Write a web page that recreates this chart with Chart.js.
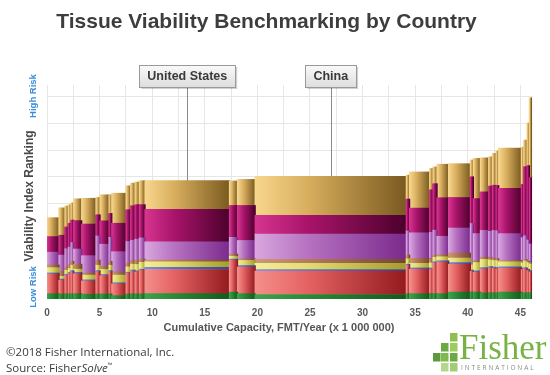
<!DOCTYPE html>
<html>
<head>
<meta charset="utf-8">
<title>Tissue Viability Benchmarking by Country</title>
<script src="https://cdn.jsdelivr.net/npm/chart.js"></script>
<style>
  html, body { margin: 0; padding: 0; background: #fff; }
  #grafico { display: block; }
</style>
</head>
<body>
<canvas id="grafico" width="550" height="375"></canvas>
<script>
// Capacidad de cada país (ancho de cada barra), millones de FMT/año, de izquierda a derecha
const capacity = [1.14, 0.57, 0.32, 0.25, 0.26, 0.76, 1.36, 0.38, 0.86, 0.26, 1.36, 0.44, 0.41, 0.41, 0.54,
  8.03, 0.76, 1.68, 14.37, 0.31, 1.91, 0.32, 0.38, 1.10, 2.07, 0.28, 0.67, 0.79, 0.35, 0.35, 0.25,
  2.16, 0.22, 0.32, 0.22, 0.19];

// Componentes del índice, apilados de abajo hacia arriba
const green   = [2.0, 1.9, 1.9, 1.9, 1.9, 2.0, 1.8, 1.9, 1.9, 1.9, 1.3, 1.9, 1.9, 1.9, 1.9, 2.0, 2.6, 2.0, 1.7, 2.0, 2.0, 2.0, 2.0, 2.0, 2.6, 2.6, 2.6, 2.3, 2.3, 2.3, 2.3, 2.6, 2.3, 2.3, 2.3, 2.3];
const red     = [7.4, 5.2, 7.0, 7.6, 8.3, 7.5, 5.0, 8.4, 6.9, 8.4, 4.4, 7.8, 8.6, 8.3, 8.9, 9.1, 12.0, 10.0, 8.8, 10.6, 9.2, 9.1, 11.5, 11.9, 10.5, 7.8, 7.5, 9.0, 9.4, 9.2, 9.0, 9.0, 8.8, 9.0, 8.4, 7.9];
const blue    = [0.4, 0.4, 0.4, 0.5, 0.5, 0.5, 0.4, 0.4, 0.4, 0.4, 0.4, 0.4, 0.4, 0.4, 0.4, 0.8, 0.4, 0.6, 0.6, 0.5, 0.5, 0.5, 0.5, 0.5, 0.6, 0.5, 0.5, 0.5, 0.5, 0.5, 0.5, 0.5, 0.5, 0.5, 0.5, 0.5];
const yellow  = [2.0, 1.0, 1.5, 1.5, 2.0, 1.2, 1.8, 2.0, 1.9, 2.0, 2.9, 2.0, 2.2, 2.4, 2.6, 2.1, 1.1, 1.9, 2.3, 2.0, 1.7, 2.0, 1.7, 1.5, 1.7, 1.9, 3.1, 3.1, 2.5, 2.5, 2.6, 1.9, 2.0, 2.5, 2.5, 2.5];
const brown   = [1.0, 2.0, 1.2, 1.5, 1.5, 1.9, 0.8, 2.0, 1.3, 1.5, 1.3, 1.5, 1.5, 1.5, 1.2, 0.6, 0.8, 0.6, 1.5, 1.5, 1.9, 1.5, 0.8, 0.8, 1.9, 0.5, 0.8, 0.8, 0.8, 0.8, 0.8, 0.5, 0.5, 0.5, 0.5, 0.5];
const purple  = [4.8, 6.0, 6.9, 6.5, 7.0, 5.7, 6.5, 9.0, 8.2, 9.0, 7.5, 8.0, 7.5, 8.0, 8.0, 6.9, 6.3, 6.9, 9.5, 9.0, 9.6, 10.0, 9.4, 6.9, 9.4, 15.1, 10.1, 10.1, 10.0, 10.5, 10.5, 10.1, 9.0, 9.0, 8.0, 7.0];
const magenta = [5.9, 7.5, 8.2, 9.0, 8.5, 10.7, 11.9, 8.0, 8.8, 9.0, 10.7, 12.0, 13.0, 13.0, 12.5, 12.2, 12.0, 13.2, 7.1, 12.0, 9.3, 16.0, 17.5, 14.5, 11.5, 17.6, 13.2, 14.5, 17.0, 17.0, 17.0, 17.0, 20.0, 26.0, 28.0, 25.0];
const gold    = [7.1, 10.3, 7.9, 7.0, 6.5, 8.2, 9.7, 6.5, 9.8, 7.0, 11.3, 9.0, 8.5, 8.5, 9.0, 10.8, 9.2, 9.8, 14.6, 9.0, 13.6, 8.0, 6.3, 12.6, 12.7, 6.3, 15.1, 12.8, 11.0, 12.0, 13.0, 15.2, 14.0, 10.0, 16.0, 30.0];

const layerNames = ['Green', 'Red', 'Blue', 'Yellow', 'Brown', 'Purple', 'Magenta', 'Gold'];
const xTicks = [0, 2.5, 5, 7.5, 10, 12.5, 15, 17.5, 20, 22.5, 25, 27.5, 30, 32.5, 35, 37.5, 40, 42.5, 45];
const yGrid = [6, 16, 26, 36, 46, 56, 66, 76];
const calloutText = ['United States', 'China'];
const calloutBar = [15, 18];

// Colores: claro (izquierda) -> oscuro (derecha), para el efecto de cilindro
const lightCol = ['#3fa24c', '#f48f8a', '#7b8fe0', '#f3ef98', '#cf9a78', '#d9a6df', '#d6348f', '#f7d68d'];
const midCol   = ['#2a8a36', '#e46262', '#5a70c8', '#e2dc70', '#b47a5a', '#b672c0', '#a8146a', '#d8ae5e'];
const darkCol  = ['#155a1d', '#931a1e', '#34449a', '#a59c2c', '#74452c', '#7a2a8c', '#4c002c', '#7a5a20'];

// Posición acumulada de cada barra en el eje x
const start = [], end = [];
let acc = 0;
capacity.forEach(c => { start.push(acc); acc += c; end.push(acc); });

function shade(c, k) {
  const xs = c.chart.scales.x;
  if (c.type !== 'data' || !xs) return midCol[k];
  const x0 = xs.getPixelForValue(start[c.dataIndex]);
  const x1 = xs.getPixelForValue(end[c.dataIndex]);
  if (!isFinite(x0) || !isFinite(x1) || x1 - x0 < 1) return midCol[k];
  const g = c.chart.ctx.createLinearGradient(x0, 0, x1, 0);
  g.addColorStop(0, lightCol[k]);
  g.addColorStop(0.35, midCol[k]);
  g.addColorStop(1, darkCol[k]);
  return g;
}

const layers = [green, red, blue, yellow, brown, purple, magenta, gold];
const totals = capacity.map(() => 0);
const datasets = layers.map((vals, k) => {
  const data = vals.map((v, i) => {
    const lo = totals[i];
    totals[i] += v;
    return { x: (start[i] + end[i]) / 2, y: [lo, totals[i]] };
  });
  return {
    label: layerNames[k], data,
    backgroundColor: c => shade(c, k),
    borderWidth: 0, grouped: false, barPercentage: 1, categoryPercentage: 1
  };
});

// Ancho de cada barra = capacidad del país, medido con la escala x
const anchos = {
  id: 'anchos',
  afterDatasetsUpdate(chart) {
    const xs = chart.scales.x;
    chart.data.datasets.forEach((ds, d) => {
      chart.getDatasetMeta(d).data.forEach((bar, i) => {
        const x0 = xs.getPixelForValue(start[i]), x1 = xs.getPixelForValue(end[i]);
        bar.x = (x0 + x1) / 2;
        bar.width = x1 - x0 + 0.6;
      });
    });
  }
};

function vertical(ctx, text, x, y, font, color) {
  ctx.save();
  ctx.translate(x, y);
  ctx.rotate(-Math.PI / 2);
  ctx.font = font; ctx.fillStyle = color;
  ctx.textAlign = 'center'; ctx.textBaseline = 'middle';
  ctx.fillText(text, 0, 0);
  ctx.restore();
}

// Textos, llamadas y logo
const adornos = {
  id: 'adornos',
  afterDraw(chart) {
    const { ctx, chartArea: a, scales: { x, y } } = chart;
    ctx.save();

    vertical(ctx, 'High Risk', 33, a.top + 11, 'bold 9.5px "Liberation Sans"', '#3a8fdc');
    vertical(ctx, 'Low Risk', 33, a.bottom - 12, 'bold 9.5px "Liberation Sans"', '#3a8fdc');
    vertical(ctx, 'Viability Index Ranking', 30, (a.top + a.bottom) / 2 + 4, 'bold 12px "Liberation Sans"', '#4a4a4a');

    ctx.font = 'bold 11px "Liberation Sans"'; ctx.fillStyle = '#555';
    ctx.textAlign = 'center'; ctx.textBaseline = 'middle';
    ctx.fillText('Cumulative Capacity, FMT/Year (x 1 000 000)', 279, 328);

    // Llamadas de país
    calloutText.forEach((txt, n) => {
      const i = calloutBar[n];
      const cx = x.getPixelForValue((start[i] + end[i]) / 2);
      const top = y.getPixelForValue(totals[i]);
      ctx.font = 'bold 12.5px "Liberation Sans"';
      const w = ctx.measureText(txt).width + 16, h = 22, by = a.top - 20;
      ctx.strokeStyle = '#8a8a8a'; ctx.lineWidth = 1;
      ctx.beginPath(); ctx.moveTo(Math.round(cx) + 0.5, by + h); ctx.lineTo(Math.round(cx) + 0.5, top); ctx.stroke();
      ctx.fillStyle = 'rgba(0,0,0,0.18)';
      ctx.fillRect(cx - w / 2 + 2, by + 2, w, h);
      const g = ctx.createLinearGradient(0, by, 0, by + h);
      g.addColorStop(0, '#fafafa'); g.addColorStop(1, '#dedede');
      ctx.fillStyle = g;
      ctx.fillRect(cx - w / 2, by, w, h);
      ctx.strokeStyle = '#9a9a9a';
      ctx.strokeRect(Math.round(cx - w / 2) + 0.5, by + 0.5, Math.round(w), h);
      ctx.fillStyle = '#3a3a3a'; ctx.textAlign = 'center';
      ctx.fillText(txt, cx, by + h / 2 + 1);
    });

    // Pie de página
    ctx.textAlign = 'left'; ctx.fillStyle = '#3a3a3a';
    ctx.font = '11.5px "Open Sans"';
    ctx.fillText('©2018 Fisher International, Inc.', 6, 353);
    ctx.fillText('Source: Fisher', 6, 369);
    let px = 6 + ctx.measureText('Source: Fisher').width;
    ctx.font = 'italic 11.5px "Open Sans"';
    ctx.fillText('Solve', px, 369);
    px += ctx.measureText('Solve').width;
    ctx.font = '6px "Open Sans"';
    ctx.fillText('™', px, 365);

    // Logo Fisher International
    const sq = [[450, 333, '#8cc152'], [441, 343, '#6aa944'], [450, 343, '#9ccc5e'],
      [433, 353, '#5a9a3c'], [441, 353, '#7fbb4c'], [450, 353, '#6aa944'],
      [441, 363, '#b5d68c'], [450, 363, '#a3cc76']];
    sq.forEach(([sx, sy, c]) => { ctx.fillStyle = c; ctx.fillRect(sx, sy, 7.5, 8.5); });
    ctx.fillStyle = '#78b245';
    ctx.font = '35px "Liberation Serif"'; ctx.textBaseline = 'alphabetic';
    ctx.fillText('Fisher', 459, 359);
    ctx.font = '6.5px "Open Sans"'; ctx.fillStyle = '#8c8c8c';
    let lx = 461;
    for (const ch of 'INTERNATIONAL') { ctx.fillText(ch, lx, 370); lx += ctx.measureText(ch).width + 1.9; }

    ctx.restore();
  }
};

new Chart(document.getElementById('grafico'), {
  type: 'bar',
  data: { datasets },
  plugins: [anchos, adornos],
  options: {
    responsive: false, animation: false, events: [],
    layout: { padding: { top: 0, right: 17, bottom: 48, left: 0 } },
    plugins: {
      legend: { display: false },
      tooltip: { enabled: false },
      title: {
        display: true, text: 'Tissue Viability Benchmarking by Country', color: '#3d3d3d',
        font: { family: '"Liberation Sans"', size: 21, weight: 'bold' },
        padding: { top: 10, bottom: 49.8 }
      }
    },
    scales: {
      x: {
        type: 'linear', min: 0, max: 46.2, offset: false,
        afterBuildTicks: s => { s.ticks = xTicks.map(v => ({ value: v })); },
        ticks: {
          callback: v => (v % 5 === 0 ? v : ''), autoSkip: false, maxRotation: 0, padding: 8,
          color: '#5a5a5a', font: { family: '"Liberation Sans"', size: 10, weight: 'bold' }
        },
        grid: { color: '#e6e6e6', drawTicks: false, offset: false },
        border: { display: false }
      },
      y: {
        min: 0, max: 80.5,
        afterBuildTicks: s => { s.ticks = yGrid.map(v => ({ value: v })); },
        afterFit: s => { s.width = 47; },
        ticks: { display: false },
        grid: { color: '#e6e6e6', drawTicks: false },
        border: { display: false }
      }
    }
  }
});
</script>
</body>
</html>
